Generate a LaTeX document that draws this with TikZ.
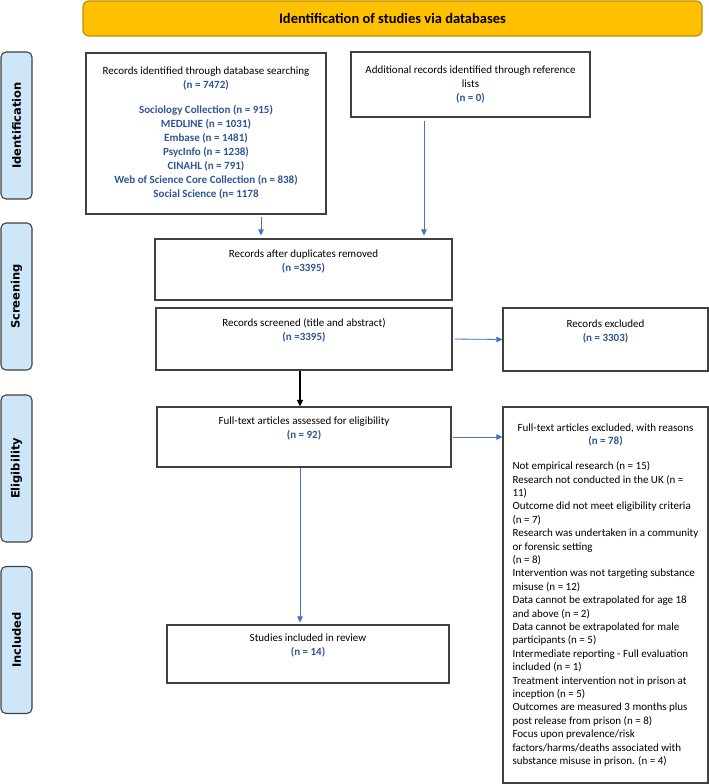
\documentclass[tikz,border=0pt]{standalone}
\usepackage{fontspec}
\setmainfont{Carlito}
\newfontfamily\sidefont{DejaVu Sans}
\usetikzlibrary{arrows.meta, positioning, calc}
\definecolor{HeadGold}{HTML}{FFC000}
\definecolor{HeadEdge}{HTML}{BF9000}
\definecolor{SideBlue}{HTML}{CDE6F8}
\definecolor{EdgeGray}{HTML}{404040}
\definecolor{NumBlue}{HTML}{2F5597}
\definecolor{ArrowBlue}{HTML}{4472C4}
\newcommand{\nval}[1]{\textcolor{NumBlue}{\textbf{#1}}}
\newcommand{\reason}[1]{\makebox[186pt][l]{#1}}
\tikzset{
  headbox/.style={draw=HeadEdge, line width=1.2pt, rounded corners=6pt, fill=HeadGold, minimum width=619pt, minimum height=35pt, inner sep=0pt, font=\bfseries\fontsize{14.5}{17}\selectfont},
  sidebox/.style={draw=EdgeGray, line width=1.1pt, rounded corners=5pt, fill=SideBlue, rotate=90, minimum width=147pt, minimum height=31pt, inner sep=0pt, font=\sidefont\bfseries\fontsize{11.5}{13}\selectfont},
  flowbox/.style={draw=EdgeGray, line width=1.1pt, fill=white, align=center, inner sep=0pt, font=\fontsize{11}{14}\selectfont},
  bluearrow/.style={-{Triangle[length=6pt, width=5.5pt]}, draw=ArrowBlue, fill=ArrowBlue, line width=0.8pt},
  blackarrow/.style={-{Triangle[length=6.5pt, width=6pt]}, draw=black, line width=1.2pt}
}
\begin{document}
\begin{tikzpicture}[x=1pt, y=-1pt]
\useasboundingbox (0,0) rectangle (709,784);
% header and phase labels
\node[headbox] (head) at (392.5,18.5) {Identification of studies via databases};
\node[sidebox] (sideA) at (16.5,125.5) {Identification};
\node[sidebox] (sideB) at (16.5,296.5) {Screening};
\node[sidebox] (sideC) at (16.5,468.5) {Eligibility};
\node[sidebox] (sideD) at (16.5,640) {Included};
% boxes
\node[flowbox, minimum width=240pt, minimum height=161pt] (dbase) at (206,133.5)
  {Records identified through database searching\\ \nval{(n = 7472)}\\[11pt]
   \nval{Sociology Collection (n = 915)}\\ \nval{MEDLINE (n = 1031)}\\
   \nval{Embase (n = 1481)}\\ \nval{PsycInfo (n = 1238)}\\ \nval{CINAHL (n = 791)}\\
   \nval{Web of Science Core Collection (n = 838)}\\ \nval{Social Science (n= 1178}};
\node[flowbox, minimum width=239pt, minimum height=65pt] (refs) at (470.5,84.5)
  {Additional records identified through reference\\ lists\\ \nval{(n = 0)}};
\node[flowbox, minimum width=297pt, minimum height=61pt] (dupl) at (303.5,269.5)
  {Records after duplicates removed\\ \nval{(n =3395)}\\ \strut};
\node[flowbox, minimum width=296pt, minimum height=62pt] (scrn) at (304,339)
  {Records screened (title and abstract)\\ \nval{(n =3395)}\\ \strut};
\node[flowbox, minimum width=205pt, minimum height=63pt] (exclA) at (605.5,339.5)
  {Records excluded\\ \nval{(n = 3303)}\\ \strut};
\node[flowbox, minimum width=294pt, minimum height=60pt] (full) at (304,437)
  {Full-text articles assessed for eligibility\\ \nval{(n = 92)}\\ \strut};
\node[flowbox, minimum width=205pt, minimum height=376pt, font=\fontsize{11}{13.4}\selectfont] (exclB) at (605.5,595)
  {Full-text articles excluded, with reasons\\ \nval{(n = 78)}\\[11.6pt]
   \reason{Not empirical research (n = 15)}\\
   \reason{Research not conducted in the UK (n =}\\
   \reason{11)}\\
   \reason{Outcome did not meet eligibility criteria}\\
   \reason{(n = 7)}\\
   \reason{Research was undertaken in a community}\\
   \reason{or forensic setting}\\
   \reason{(n = 8)}\\
   \reason{Intervention was not targeting substance}\\
   \reason{misuse (n = 12)}\\
   \reason{Data cannot be extrapolated for age 18}\\
   \reason{and above (n = 2)}\\
   \reason{Data cannot be extrapolated for male}\\
   \reason{participants (n = 5)}\\
   \reason{Intermediate reporting - Full evaluation}\\
   \reason{included (n = 1)}\\
   \reason{Treatment intervention not in prison at}\\
   \reason{inception (n = 5)}\\
   \reason{Outcomes are measured 3 months plus}\\
   \reason{post release from prison (n = 8)}\\
   \reason{Focus upon prevalence/risk}\\
   \reason{factors/harms/deaths associated with}\\
   \reason{substance misuse in prison. (n = 4)}};
\node[flowbox, minimum width=282pt, minimum height=58pt] (incl) at (308,654)
  {Studies included in review\\ \nval{(n = 14)}\\ \strut};
% connectors
\draw[bluearrow, shorten <=2pt, shorten >=3pt] ([xshift=55pt]dbase.south) -- ([xshift=-42.5pt]dupl.north);
\draw[bluearrow, shorten <=3pt, shorten >=3pt] ([xshift=-46.5pt]refs.south) -- ([xshift=120.5pt]dupl.north);
\draw[bluearrow, shorten <=2pt] (scrn.east) -- (exclA.west);
\draw[blackarrow] ([xshift=-4pt]scrn.south) -- ([xshift=-4pt]full.north);
\draw[bluearrow, shorten <=1pt] (full.east) -- (full.east -| exclB.west);
\draw[bluearrow, shorten >=2pt] ([xshift=-4pt]full.south) -- ([xshift=-8pt]incl.north);
\end{tikzpicture}
\end{document}
